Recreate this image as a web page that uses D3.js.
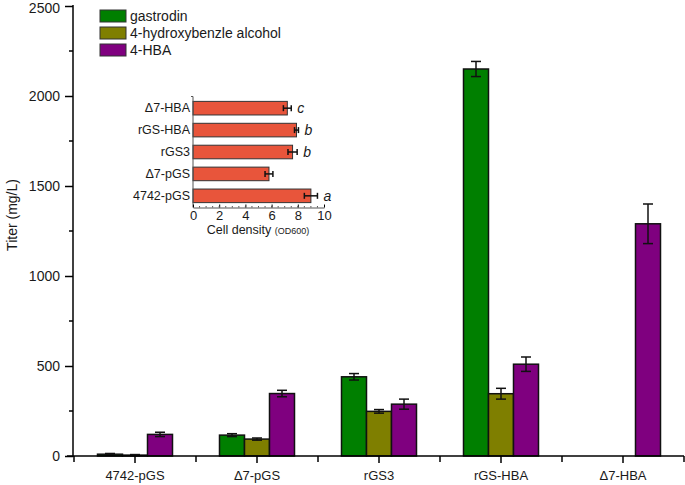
<!DOCTYPE html>
<html>
<head>
<script src="https://d3js.org/d3.v7.min.js"></script>
<style>
  body { margin: 0; background: #fff; }
  text { font-family: "Liberation Sans", Arial, sans-serif; fill: #1a1a1a; }
</style>
</head>
<body>
<script>
// main chart data
var strains = ["4742-pGS", "Δ7-pGS", "rGS3", "rGS-HBA", "Δ7-HBA"];
var seriesNames = ["gastrodin", "4-hydroxybenzle alcohol", "4-HBA"];
var seriesColors = ["#007f00", "#7f7f00", "#7f007f"];
var gastrodin = [10, 116, 440, 2150, 0];
var gastrodinErr = [4, 8, 18, 42, 0];
var hydroxyAlc = [5, 94, 248, 346, 0];
var hydroxyAlcErr = [3, 6, 10, 30, 0];
var hba = [120, 347, 288, 510, 1290];
var hbaErr = [12, 18, 28, 40, 110];
var yTicks = [0, 500, 1000, 1500, 2000, 2500];

// inset data
var insetStrains = ["Δ7-HBA", "rGS-HBA", "rGS3", "Δ7-pGS", "4742-pGS"];
var density = [7.2, 7.9, 7.6, 5.8, 9.0];
var densityErr = [0.3, 0.15, 0.35, 0.3, 0.5];
var densityLetters = ["c", "b", "b", "", "a"];
var insetTicks = [0, 2, 4, 6, 8, 10];

var w = 685, h = 485;
var svg = d3.select("body").append("svg").attr("width", w).attr("height", h);

var xScale = d3.scaleBand().domain(strains).range([74, 684]);
var xInner = d3.scaleBand().domain(d3.range(3)).range([-37.5, 37.5]);
var yScale = d3.scaleLinear().domain([0, 2500]).range([456, 6]);

var values = [gastrodin, hydroxyAlc, hba];
var errs = [gastrodinErr, hydroxyAlcErr, hbaErr];

// bars
var bars = [];
strains.forEach(function (s, i) {
  for (var k = 0; k < 3; k++) {
    bars.push({ s: s, k: k, v: values[k][i], e: errs[k][i] });
  }
});
var drawn = bars.filter(function (d) { return d.v > 0; });

svg.append("g").selectAll("rect").data(drawn).enter().append("rect")
  .attr("x", function (d) { return xScale(d.s) + xScale.bandwidth() / 2 + xInner(d.k); })
  .attr("y", function (d) { return yScale(d.v); })
  .attr("width", xInner.bandwidth())
  .attr("height", function (d) { return yScale(0) - yScale(d.v); })
  .attr("fill", function (d) { return seriesColors[d.k]; })
  .attr("stroke", "#111").attr("stroke-width", 1.5);

// error bars
var eb = svg.append("g").attr("stroke", "#111").attr("stroke-width", 1.5);
drawn.forEach(function (d) {
  var cx = xScale(d.s) + xScale.bandwidth() / 2 + xInner(d.k) + xInner.bandwidth() / 2;
  var y1 = yScale(d.v + d.e), y2 = yScale(Math.max(0, d.v - d.e));
  eb.append("line").attr("x1", cx).attr("x2", cx).attr("y1", y1).attr("y2", y2);
  eb.append("line").attr("x1", cx - 5).attr("x2", cx + 5).attr("y1", y1).attr("y2", y1);
  eb.append("line").attr("x1", cx - 5).attr("x2", cx + 5).attr("y1", y2).attr("y2", y2);
});

// axes
var yAxis = d3.axisLeft(yScale).tickValues(yTicks).tickFormat(d3.format("d")).tickSize(8).tickPadding(5);
var yg = svg.append("g").attr("transform", "translate(73,0)").call(yAxis);
yg.select(".domain").attr("stroke-width", 1.5).attr("d", "M0,5V457");
yg.selectAll(".tick line").attr("stroke-width", 1.5);
yg.selectAll("text").style("font-size", "14px").attr("fill", "#1a1a1a");
yg.selectAll(".tick text").filter(function (d) { return d === 2500; }).attr("dy", "0.45em");
yg.selectAll(".minor").data(d3.range(250, 2500, 500)).enter().append("line")
  .attr("x1", -4).attr("x2", 0)
  .attr("y1", function (d) { return yScale(d); }).attr("y2", function (d) { return yScale(d); })
  .attr("stroke", "#000").attr("stroke-width", 1.5);

var xAxis = d3.axisBottom(xScale).tickSize(7).tickSizeOuter(0).tickPadding(8);
var xg = svg.append("g").attr("transform", "translate(0,456)").call(xAxis);
xg.select(".domain").attr("stroke-width", 1.5).attr("d", "M67,0H684");
xg.selectAll(".tick line").attr("stroke-width", 1.5);
xg.selectAll("text").style("font-size", "13px").attr("fill", "#1a1a1a");
var bounds = strains.map(function (s) { return xScale(s); }).concat([xScale.range()[1]]);
xg.selectAll(".minor").data(bounds).enter().append("line")
  .attr("x1", function (d) { return d; }).attr("x2", function (d) { return d; })
  .attr("y1", 0).attr("y2", 6)
  .attr("stroke", "#000").attr("stroke-width", 1.5);

svg.append("text").attr("transform", "translate(17,215) rotate(-90)")
  .attr("text-anchor", "middle").style("font-size", "14px").text("Titer (mg/L)");

// legend
var lg = svg.append("g");
seriesNames.forEach(function (n, i) {
  lg.append("rect").attr("x", 100).attr("y", 10 + i * 17).attr("width", 26).attr("height", 12)
    .attr("fill", seriesColors[i]).attr("stroke", "#333").attr("stroke-width", 1);
  lg.append("text").attr("x", 130).attr("y", 21 + i * 17).style("font-size", "14px").text(n);
});

// inset
var ix = d3.scaleLinear().domain([0, 10]).range([193, 324]);
var iy = d3.scaleBand().domain(insetStrains).range([97, 207]).paddingInner(0.38).paddingOuter(0.2);
var ig = svg.append("g");
ig.selectAll("rect").data(insetStrains).enter().append("rect")
  .attr("x", ix(0))
  .attr("y", function (d) { return iy(d); })
  .attr("width", function (d, i) { return ix(density[i]) - ix(0); })
  .attr("height", iy.bandwidth())
  .attr("fill", "#e8553b").attr("stroke", "#333").attr("stroke-width", 1);

insetStrains.forEach(function (s, i) {
  var cy = iy(s) + iy.bandwidth() / 2;
  var x1 = ix(density[i] - densityErr[i]), x2 = ix(density[i] + densityErr[i]);
  ig.append("line").attr("x1", x1).attr("x2", x2).attr("y1", cy).attr("y2", cy).attr("stroke", "#111").attr("stroke-width", 1.5);
  ig.append("line").attr("x1", x1).attr("x2", x1).attr("y1", cy - 3).attr("y2", cy + 3).attr("stroke", "#111").attr("stroke-width", 1.5);
  ig.append("line").attr("x1", x2).attr("x2", x2).attr("y1", cy - 3).attr("y2", cy + 3).attr("stroke", "#111").attr("stroke-width", 1.5);
  ig.append("text").attr("x", x2 + 6).attr("y", cy + 5)
    .style("font-size", "14px").style("font-style", "italic").text(densityLetters[i]);
});

var iyAxis = d3.axisLeft(iy).tickSize(0).tickPadding(3);
var iyg = ig.append("g").attr("transform", "translate(193,0)").call(iyAxis);
iyg.select(".domain").attr("stroke", "#555").attr("d", "M-2,96.5H0V207.5");
iyg.selectAll("text").style("font-size", "12.5px").attr("fill", "#1a1a1a");

var ixAxis = d3.axisBottom(ix).tickValues(insetTicks).tickSize(-3).tickSizeOuter(0).tickPadding(3);
var ixg = ig.append("g").attr("transform", "translate(0,207.5)").call(ixAxis);
ixg.select(".domain").attr("stroke", "#555");
ixg.selectAll("text").style("font-size", "13px").attr("fill", "#1a1a1a");
ixg.selectAll(".minor").data(d3.range(0.5, 10, 0.5)).enter().append("line")
  .attr("x1", function (d) { return ix(d); }).attr("x2", function (d) { return ix(d); })
  .attr("y1", 0).attr("y2", -1.5).attr("stroke", "#555");

var lab = ig.append("text").attr("x", 258).attr("y", 234).attr("text-anchor", "middle").style("font-size", "12.5px");
lab.append("tspan").text("Cell density ");
lab.append("tspan").style("font-size", "9px").text("(OD600)");
</script>
</body>
</html>
